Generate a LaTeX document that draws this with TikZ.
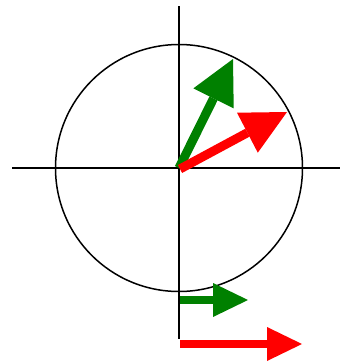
\documentclass[tikz,border=0pt]{standalone}
\usetikzlibrary{calc}
\definecolor{dgreen}{RGB}{0,128,0}
\definecolor{pred}{RGB}{255,0,0}
\begin{document}
\begin{tikzpicture}[x=1pt,y=-1pt,
  axisline/.style={line width=1.5pt,black},
  shaft/.style={line width=9pt},
  smallshaft/.style={line width=8pt}]
\useasboundingbox (0,0) rectangle (341,364);
% axes and circle
\coordinate (O) at (179,168);
\coordinate (xl) at (12,168);
\coordinate (xr) at (340,168);
\coordinate (yt) at (179,6);
\coordinate (yb) at (179,339);
\draw[axisline] (xl) -- (xr);
\draw[axisline] (yt) -- (yb);
\draw[axisline] (O) circle (123.5);
% green rotated vector
\coordinate (gT) at (233,59);
\coordinate (gM) at (213.5,98.4);
\coordinate (gA) at (233.7,108.4);
\coordinate (gB) at (193.3,88.4);
\draw[shaft,dgreen] (O) -- (gM);
\fill[dgreen] (gT) -- (gA) -- (gB) -- cycle;
% red rotated vector
\coordinate (rO) at (180,169);
\coordinate (rT) at (287,112);
\coordinate (rM) at (247.4,132.7);
\coordinate (rA) at (237.0,112.7);
\coordinate (rB) at (257.8,152.7);
\draw[shaft,pred] (rO) -- (rM);
\fill[pred] (rT) -- (rA) -- (rB) -- cycle;
% green projection
\coordinate (g0) at (180,300);
\coordinate (g1) at (214,300);
\draw[smallshaft,dgreen] (g0) -- (g1);
\fill[dgreen] (213,283) -- (248,300) -- (213,317) -- cycle;
% red projection
\coordinate (r0) at (180,344);
\coordinate (r1) at (268,344);
\draw[smallshaft,pred] (r0) -- (r1);
\fill[pred] (267,327) -- (302,344) -- (267,361) -- cycle;
\end{tikzpicture}
\end{document}
